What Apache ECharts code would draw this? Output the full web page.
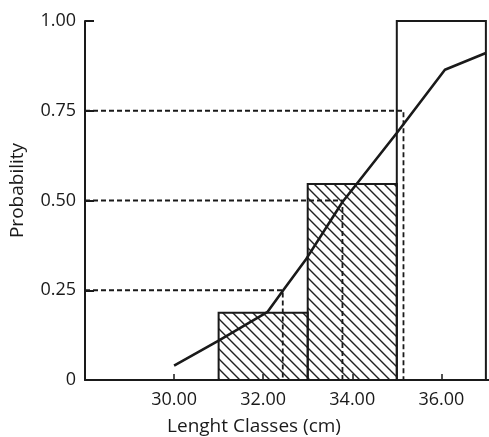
<!DOCTYPE html>
<html>
<head>
<meta charset="utf-8">
<script src="https://cdn.jsdelivr.net/npm/echarts@6/dist/echarts.min.js"></script>
<style>
  html, body { margin: 0; padding: 0; background: #fff; }
  #chart { width: 489px; height: 437px; }
</style>
</head>
<body>
<div id="chart"></div>
<script>
// length classes (cm) and their probabilities
const binStart = [31, 33, 35];
const binEnd = [33, 35, 37];
const binProb = [0.187, 0.546, 1.0];
const binHatched = [1, 1, 0];

// cumulative curve
const curveX = [30.0, 31.0, 32.1, 32.45, 32.95, 33.78, 35.0, 36.08, 37.0];
const curveY = [0.04, 0.11, 0.19, 0.25, 0.334, 0.496, 0.688, 0.864, 0.911];

// dashed reading lines
const guideProb = [0.25, 0.5, 0.75];
const guideLength = [32.44, 33.78, 35.15];

const yTickLabels = { 0: "0", 0.25: "0.25", 0.5: "0.50", 0.75: "0.75", 1: "1.00" };
const xMin = 28;
const xMax = 37.07;

const ink = "#1a1a1a";
const font = "Open Sans";

// diagonal hatch tile
function makeHatch() {
  const size = 10;
  const c = document.createElement("canvas");
  c.width = size;
  c.height = size;
  const ctx = c.getContext("2d");
  ctx.strokeStyle = "#222";
  ctx.lineWidth = 1.4;
  ctx.beginPath();
  ctx.moveTo(-2, -2);
  ctx.lineTo(size + 2, size + 2);
  ctx.moveTo(-2, size - 2);
  ctx.lineTo(2, size + 2);
  ctx.moveTo(size - 2, -2);
  ctx.lineTo(size + 2, 2);
  ctx.stroke();
  return c;
}
const hatch = { image: makeHatch(), repeat: "repeat" };

const chart = echarts.init(document.getElementById("chart"));

const guideSeries = guideProb.map((p, i) => ({
  type: "line",
  silent: true,
  symbol: "none",
  z: 4,
  lineStyle: { color: ink, width: 1.8, type: [5, 3] },
  data: [[xMin, p], [guideLength[i], p], [guideLength[i], 0]],
}));

chart.setOption({
  animation: false,
  grid: { left: 85, right: 0, top: 21, bottom: 57, outerBoundsMode: "none", containLabel: false },
  xAxis: {
    type: "value",
    min: xMin,
    max: xMax,
    interval: 2,
    name: "Lenght Classes (cm)",
    nameLocation: "middle",
    nameGap: 37,
    nameTextStyle: { fontFamily: font, fontSize: 19, color: ink, padding: [0, 66, 0, 0] },
    axisLine: { lineStyle: { color: ink, width: 2 } },
    axisTick: { inside: true, length: 6, lineStyle: { color: ink, width: 1.5 } },
    axisLabel: {
      showMinLabel: false,
      showMaxLabel: false,
      fontFamily: font,
      fontSize: 18,
      color: ink,
      margin: 11,
      formatter: (v) => (v === xMin ? "" : v.toFixed(2)),
    },
    splitLine: { show: false },
  },
  yAxis: {
    type: "value",
    min: 0,
    max: 1,
    interval: 0.25,
    name: "Probability",
    nameLocation: "middle",
    nameGap: 58,
    nameTextStyle: { fontFamily: font, fontSize: 19, color: ink, padding: [0, 0, 0, 20] },
    axisLine: { lineStyle: { color: ink, width: 2 } },
    axisTick: { inside: true, length: 9, lineStyle: { color: ink, width: 2 } },
    axisLabel: {
      fontFamily: font,
      fontSize: 18,
      color: ink,
      margin: 9,
      formatter: (v) => yTickLabels[v],
    },
    splitLine: { show: false },
  },
  series: [
    {
      type: "custom",
      z: 2,
      encode: { x: [0, 1], y: 2 },
      data: binStart.map((s, i) => [s, binEnd[i], binProb[i], binHatched[i]]),
      renderItem(params, api) {
        const topLeft = api.coord([api.value(0), api.value(2)]);
        const bottomRight = api.coord([api.value(1), 0]);
        return {
          type: "rect",
          shape: {
            x: topLeft[0],
            y: topLeft[1],
            width: bottomRight[0] - topLeft[0],
            height: bottomRight[1] - topLeft[1],
          },
          style: {
            fill: api.value(3) ? hatch : "none",
            stroke: ink,
            lineWidth: 2,
          },
        };
      },
    },
    ...guideSeries,
    {
      type: "line",
      z: 6,
      symbol: "none",
      lineStyle: { color: ink, width: 2.6 },
      data: curveX.map((x, i) => [x, curveY[i]]),
    },
  ],
});
</script>
</body>
</html>
